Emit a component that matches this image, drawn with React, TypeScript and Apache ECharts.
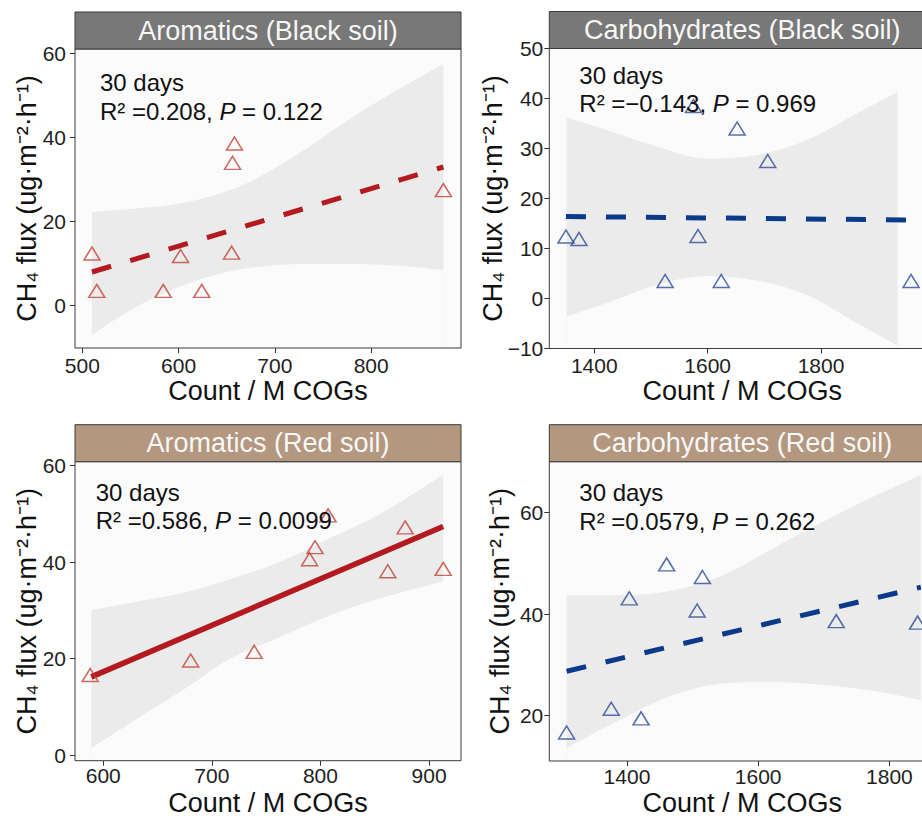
import React, { useEffect, useRef } from 'react';
import * as echarts from 'echarts';

const FONT = '"Liberation Sans", Arial, Helvetica, sans-serif';

// ---------- Aromatics (Black soil)
const aromBlackCount = [510, 515, 584, 602, 624, 655, 656, 658, 875];
const aromBlackFlux = [12.3, 3.4, 3.4, 11.7, 3.4, 12.5, 33.9, 38.5, 27.4];
const aromBlackBandX = [510, 556, 601, 643, 681, 730, 781, 833, 875];
const aromBlackBandUpper = [22.2, 23.0, 24.2, 26.6, 30.2, 36.9, 44.8, 52.0, 57.5];
const aromBlackBandLower = [-7.1, -0.4, 4.4, 7.5, 9.1, 9.8, 9.8, 9.3, 8.3];
const aromBlackFitX = [510, 875];
const aromBlackFitY = [7.9, 32.9];
const aromBlackXTicks = [500, 600, 700, 800];
const aromBlackYTicks = [0, 20, 40, 60];

// ---------- Carbohydrates (Black soil)
const carbBlackCount = [1350, 1373, 1525, 1575, 1583, 1624, 1652, 1706, 1959];
const carbBlackFlux = [12.4, 11.9, 3.5, 38.5, 12.5, 3.5, 34.0, 27.5, 3.5];
const carbBlackBandX = [1351, 1422, 1510, 1598, 1687, 1775, 1863, 1935];
const carbBlackBandUpper = [36.2, 33.7, 30.4, 28.0, 28.7, 31.7, 37.0, 41.3];
const carbBlackBandLower = [-3.6, -0.9, 2.7, 4.5, 3.6, 0.7, -4.9, -9.4];
const carbBlackFitX = [1350, 1959];
const carbBlackFitY = [16.4, 15.7];
const carbBlackXTicks = [1400, 1600, 1800];
const carbBlackYTicks = [-10, 0, 10, 20, 30, 40, 50];

// ---------- Aromatics (Red soil)
const aromRedCount = [588, 680.5, 739, 790, 795, 807, 862, 878, 913];
const aromRedFlux = [16.6, 19.6, 21.4, 40.6, 43.1, 49.7, 38.1, 47.2, 38.6];
const aromRedBandX = [589, 631, 677, 717, 763, 809, 855, 913];
const aromRedBandUpper = [30.1, 31.8, 33.8, 36.5, 40.1, 45.0, 50.0, 58.1];
const aromRedBandLower = [1.4, 7.5, 14.0, 20.0, 24.5, 29.0, 32.5, 36.0];
const aromRedFitX = [589, 913];
const aromRedFitY = [16.2, 47.4];
const aromRedXTicks = [600, 700, 800, 900];
const aromRedYTicks = [0, 20, 40, 60];

// ---------- Carbohydrates (Red soil)
const carbRedCount = [1308, 1376, 1403.5, 1421.5, 1460.5, 1507, 1515, 1719, 1843];
const carbRedFlux = [16.6, 21.3, 43.1, 19.4, 49.8, 40.7, 47.3, 38.6, 38.3];
const carbRedBandX = [1308, 1394, 1471, 1547, 1623, 1699, 1776, 1848];
const carbRedBandUpper = [43.7, 43.7, 44.7, 47.7, 53.0, 58.2, 63.2, 67.4];
const carbRedBandLower = [13.5, 19.4, 24.0, 26.3, 26.6, 26.0, 24.8, 23.0];
const carbRedFitX = [1308, 1848];
const carbRedFitY = [28.7, 45.3];
const carbRedXTicks = [1400, 1600, 1800];
const carbRedYTicks = [20, 40, 60];

const titles = [
  'Aromatics (Black soil)',
  'Carbohydrates (Black soil)',
  'Aromatics (Red soil)',
  'Carbohydrates (Red soil)',
];
const statLines = [
  'R² =0.208, {i|P} = 0.122',
  'R² =−0.143, {i|P} = 0.969',
  'R² =0.586, {i|P} = 0.0099',
  'R² =0.0579, {i|P} = 0.262',
];
const dayLabel = '30 days';
const xTitle = 'Count / M COGs';
const yTitle = 'CH₄ flux (ug·m⁻²·h⁻¹)';

const RED_LINE = '#B3191E';
const RED_PT = '#C0443A';
const BLUE_LINE = '#0B3A8A';
const BLUE_PT = '#2D4B95';
const STRIP_GRAY = '#787878';
const STRIP_TAN = '#B3977F';
const PANEL_BG = '#FBFBFB';
const BAND = '#EBEBEB';

interface Panel {
  x: number[]; y: number[];
  bx: number[]; bu: number[]; bl: number[];
  fx: number[]; fy: number[];
  xt: number[]; yt: number[];
  xMin: number; xMax: number; yMin: number; yMax: number;
  left: number; top: number; width: number; height: number;
  strip: string; line: string; pt: string; dashed: boolean;
  xLabelMargin: number; yLabelMargin: number;
  annoX: number; annoY1: number; annoY2: number;
  yTitleX: number; xTitleY: number;
}

const panels: Panel[] = [
  {
    x: aromBlackCount, y: aromBlackFlux, bx: aromBlackBandX, bu: aromBlackBandUpper, bl: aromBlackBandLower,
    fx: aromBlackFitX, fy: aromBlackFitY, xt: aromBlackXTicks, yt: aromBlackYTicks,
    xMin: 492.4, xMax: 893.3, yMin: -10.2, yMax: 61.0,
    left: 75, top: 49, width: 386, height: 299,
    strip: STRIP_GRAY, line: RED_LINE, pt: RED_PT, dashed: true, xLabelMargin: 7, yLabelMargin: 9,
    annoX: 100, annoY1: 82.2, annoY2: 111.2, yTitleX: 27, xTitleY: 391,
  },
  {
    x: carbBlackCount, y: carbBlackFlux, bx: carbBlackBandX, bu: carbBlackBandUpper, bl: carbBlackBandLower,
    fx: carbBlackFitX, fy: carbBlackFitY, xt: carbBlackXTicks, yt: carbBlackYTicks,
    xMin: 1320.6, xMax: 2001.7, yMin: -10, yMax: 50,
    left: 549.3, top: 48.5, width: 386, height: 300,
    strip: STRIP_GRAY, line: BLUE_LINE, pt: BLUE_PT, dashed: true, xLabelMargin: 6, yLabelMargin: 6,
    annoX: 579.3, annoY1: 75.2, annoY2: 103.2, yTitleX: 492.7, xTitleY: 391,
  },
  {
    x: aromRedCount, y: aromRedFlux, bx: aromRedBandX, bu: aromRedBandUpper, bl: aromRedBandLower,
    fx: aromRedFitX, fy: aromRedFitY, xt: aromRedXTicks, yt: aromRedYTicks,
    xMin: 574, xMax: 929.4, yMin: -1.18, yMax: 60.83,
    left: 75, top: 461.7, width: 386, height: 299,
    strip: STRIP_TAN, line: RED_LINE, pt: RED_PT, dashed: false, xLabelMargin: 4.5, yLabelMargin: 9,
    annoX: 95.7, annoY1: 492.2, annoY2: 520.2, yTitleX: 27, xTitleY: 802.5,
  },
  {
    x: carbRedCount, y: carbRedFlux, bx: carbRedBandX, bu: carbRedBandUpper, bl: carbRedBandLower,
    fx: carbRedFitX, fy: carbRedFitY, xt: carbRedXTicks, yt: carbRedYTicks,
    xMin: 1281.6, xMax: 1870, yMin: 10.98, yMax: 70.07,
    left: 549.3, top: 461.7, width: 386, height: 299.3,
    strip: STRIP_TAN, line: BLUE_LINE, pt: BLUE_PT, dashed: true, xLabelMargin: 4.5, yLabelMargin: 6,
    annoX: 579.3, annoY1: 492.4, annoY2: 521.7, yTitleX: 500, xTitleY: 802.5,
  },
];

const STRIP_H = 37;

function buildOption(): any {
  const labelFmt = (v: number) => String(v).replace('-', '−');
  const grid = panels.map((p) => ({
    left: p.left, top: p.top, width: p.width, height: p.height,
    show: true, backgroundColor: PANEL_BG, borderWidth: 0,
    containLabel: false, outerBoundsMode: 'none',
  }));
  const xAxis = panels.map((p, i) => ({
    type: 'value', gridIndex: i, min: p.xMin, max: p.xMax,
    axisLine: { show: false, onZero: false },
    splitLine: { show: false },
    axisTick: { show: true, length: 5, lineStyle: { color: '#333', width: 1 }, customValues: p.xt },
    axisLabel: {
      customValues: p.xt, margin: p.xLabelMargin, fontSize: 21, lineHeight: 21, color: '#1e1e1e',
      fontFamily: FONT, formatter: labelFmt,
    },
  }));
  const yAxis = panels.map((p, i) => ({
    type: 'value', gridIndex: i, min: p.yMin, max: p.yMax,
    axisLine: { show: false, onZero: false },
    splitLine: { show: false },
    axisTick: { show: true, length: 5, lineStyle: { color: '#333', width: 1 }, customValues: p.yt },
    axisLabel: {
      customValues: p.yt, margin: p.yLabelMargin, fontSize: 21, lineHeight: 21, color: '#1e1e1e',
      fontFamily: FONT, formatter: labelFmt,
    },
  }));
  const series: any[] = [];
  panels.forEach((p, i) => {
    // confidence band: upper edge filled down to the axis, then the part under the lower edge repainted with the panel colour
    series.push({
      type: 'line', xAxisIndex: i, yAxisIndex: i,
      data: p.bx.map((x, k) => [x, p.bu[k]]),
      smooth: 0.35, symbol: 'none', lineStyle: { width: 0, opacity: 0 },
      areaStyle: { color: BAND, opacity: 1, origin: 'start' }, silent: true, z: 1,
    });
    series.push({
      type: 'line', xAxisIndex: i, yAxisIndex: i,
      data: p.bx.map((x, k) => [x, p.bl[k]]),
      smooth: 0.35, symbol: 'none', lineStyle: { width: 0, opacity: 0 },
      areaStyle: { color: PANEL_BG, opacity: 1, origin: 'start' }, silent: true, z: 1.5,
    });
    series.push({
      type: 'line', xAxisIndex: i, yAxisIndex: i,
      data: p.fx.map((x, k) => [x, p.fy[k]]),
      symbol: 'none', silent: true, z: 3,
      lineStyle: { color: p.line, width: p.dashed ? 5 : 5.5, type: p.dashed ? [20, 20] : 'solid', cap: 'butt' },
    });
    series.push({
      type: 'scatter', xAxisIndex: i, yAxisIndex: i,
      data: p.x.map((x, k) => [x, p.y[k]]),
      symbol: 'triangle', symbolSize: [16, 13], z: 4,
      itemStyle: { color: 'rgba(0,0,0,0)', borderColor: p.pt, borderWidth: 1.5 },
    });
  });

  const graphic: any[] = [];
  panels.forEach((p, i) => {
    const cx = p.left + p.width / 2;
    graphic.push({
      type: 'rect', shape: { x: p.left, y: p.top, width: p.width, height: p.height },
      style: { fill: 'none', stroke: '#3a3a3a', lineWidth: 1 }, z: 10, silent: true,
    });
    graphic.push({
      type: 'rect', shape: { x: p.left, y: p.top - STRIP_H, width: p.width, height: STRIP_H },
      style: { fill: p.strip, stroke: '#3a3a3a', lineWidth: 1 }, z: 10,
    });
    graphic.push({
      type: 'text', x: cx, y: p.top - STRIP_H / 2, z: 11,
      style: { text: titles[i], fill: '#F7F7F7', fontSize: 27, fontFamily: FONT, align: 'center', verticalAlign: 'middle' },
    });
    graphic.push({
      type: 'text', x: p.annoX, y: p.annoY1, z: 11,
      style: { text: dayLabel, fill: '#111', fontSize: 24, fontFamily: FONT, align: 'left', verticalAlign: 'middle' },
    });
    graphic.push({
      type: 'text', x: p.annoX, y: p.annoY2, z: 11,
      style: {
        text: statLines[i], fill: '#111', fontSize: 24, fontFamily: FONT, align: 'left', verticalAlign: 'middle',
        rich: { i: { fontStyle: 'italic', fontSize: 24, fontFamily: FONT, fill: '#111' } },
      },
    });
    graphic.push({
      type: 'text', x: p.yTitleX, y: p.top + p.height / 2, rotation: Math.PI / 2, z: 11,
      style: { text: yTitle, fill: '#111', fontSize: 27, fontFamily: FONT, align: 'center', verticalAlign: 'middle' },
    });
    graphic.push({
      type: 'text', x: cx, y: p.xTitleY, z: 11,
      style: {
        text: xTitle, fill: '#111', fontSize: 27, lineHeight: 27, fontFamily: FONT,
        align: 'center', verticalAlign: 'middle',
      },
    });
  });

  return {
    animation: false,
    backgroundColor: '#FFFFFF',
    grid, xAxis, yAxis, series, graphic,
  };
}

export default function App() {
  const ref = useRef<HTMLDivElement>(null);
  useEffect(() => {
    if (!ref.current) return;
    const chart = echarts.init(ref.current, null, { renderer: 'svg' });
    chart.setOption(buildOption());
    return () => chart.dispose();
  }, []);
  return (
    <div style={{ position: 'fixed', left: 0, top: 0, width: 922, height: 819, overflow: 'hidden', background: '#fff' }}>
      <div ref={ref} style={{ width: 922, height: 819 }} />
    </div>
  );
}
